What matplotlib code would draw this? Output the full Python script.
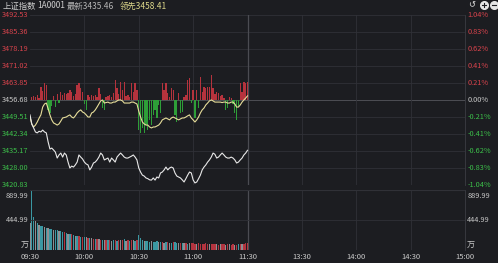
import matplotlib
matplotlib.use('Agg')
import matplotlib.pyplot as plt
from matplotlib.lines import Line2D

plt.rcParams['font.family'] = ['Noto Sans CJK SC', 'DejaVu Sans']

# ---- data (minutes since 09:30, morning session only) ----
minutes = list(range(121))

# 最新 (white) index line
last_price = [
    3450.4, 3446.5, 3444.9, 3443.2, 3442.8, 3443.5, 3443.2, 3444.0, 3443.2, 3442.8,
    3439.0, 3436.0, 3436.4, 3435.6, 3434.7, 3432.2, 3433.5, 3434.3, 3432.6, 3434.3,
    3433.5, 3430.5, 3428.0, 3428.8, 3428.4, 3429.3, 3430.5, 3433.5, 3432.6, 3431.8,
    3430.5, 3429.7, 3429.3, 3427.2, 3428.4, 3430.1, 3430.5, 3431.4, 3432.6, 3434.3,
    3433.5, 3431.4, 3431.8, 3432.2, 3430.5, 3432.2, 3431.4, 3430.5, 3432.6, 3433.5,
    3434.3, 3433.5, 3432.6, 3432.2, 3432.2, 3432.6, 3433.0, 3433.5, 3432.6, 3431.4,
    3428.0, 3426.3, 3425.0, 3424.6, 3423.8, 3423.5, 3423.0, 3422.9, 3423.8, 3422.9,
    3424.2, 3423.8, 3425.9, 3426.3, 3427.2, 3428.4, 3427.2, 3428.0, 3428.4, 3428.0,
    3425.9, 3424.6, 3424.2, 3423.8, 3423.0, 3422.1, 3423.5, 3425.0, 3426.3, 3425.9,
    3423.0, 3421.7, 3422.1, 3423.5, 3425.0, 3427.2, 3428.4, 3429.3, 3430.5, 3431.4,
    3432.6, 3434.3, 3433.8, 3432.2, 3432.6, 3433.5, 3434.3, 3433.5, 3432.6, 3432.2,
    3432.2, 3432.6, 3432.2, 3431.4, 3430.1, 3430.5, 3431.4, 3432.2, 3433.5, 3434.3,
    3435.46]

# 领先 (yellow) line
lead_price = [
    3449.5, 3446.5, 3445.3, 3446.1, 3447.4, 3449.0, 3450.4, 3453.7, 3455.0, 3455.4,
    3453.0, 3450.4, 3448.3, 3447.0, 3446.6, 3446.1, 3446.6, 3447.8, 3449.1, 3449.3,
    3449.5, 3450.0, 3450.4, 3449.5, 3449.1, 3450.0, 3451.2, 3452.0, 3452.5, 3451.6,
    3451.2, 3450.4, 3449.5, 3449.5, 3451.2, 3451.6, 3452.5, 3453.7, 3455.0, 3456.3,
    3456.7, 3455.4, 3455.6, 3455.8, 3455.4, 3455.4, 3455.8, 3455.8, 3456.3, 3456.7,
    3456.7, 3456.3, 3455.4, 3455.4, 3455.4, 3455.4, 3455.8, 3455.8, 3455.4, 3455.0,
    3452.0, 3449.5, 3447.4, 3446.6, 3446.1, 3446.1, 3445.3, 3444.9, 3445.3, 3445.3,
    3445.7, 3446.1, 3447.0, 3448.3, 3448.7, 3449.1, 3448.7, 3448.3, 3449.1, 3449.5,
    3449.1, 3448.7, 3448.3, 3448.7, 3449.1, 3449.1, 3449.5, 3450.0, 3450.4, 3449.1,
    3448.3, 3447.4, 3448.3, 3449.5, 3451.2, 3452.5, 3453.3, 3454.6, 3455.4, 3456.3,
    3456.7, 3456.3, 3455.8, 3455.8, 3455.8, 3455.8, 3455.6, 3455.8, 3455.8, 3455.4,
    3455.4, 3455.8, 3455.8, 3455.0, 3453.7, 3453.7, 3454.6, 3455.8, 3456.7, 3457.5,
    3458.41]

# buy/sell strength bars around the zero line
strength = [
    0, 3, 4, 3, 5, 2, 13, 9, 17, 15,
    -10, -13, -6, 4, -7, 6, -3, 8, 5, 7,
    6, 7, 10, 8, 4, 6, 15, 17, 12, 8,
    -4, -10, 5, 3, 5, 4, 5, 3, 12, 6,
    -8, -10, 3, 4, 5, 3, 7, 20, 12, 6,
    18, 10, 18, 4, 5, 3, 17, 8, 17, 10,
    -30, -33, -28, -33, -25, -30, -20, -25, -15, -10,
    -18, -5, -13, 17, 10, 17, 7, 3, 12, 10,
    -15, -22, 7, -13, -12, 3, 5, 20, 22, -3,
    10, -18, 10, -8, 23, 8, 13, 12, 13, 13,
    25, 12, 6, 8, 7, 4, 5, 2, -10, -8,
    3, 2, -4, -13, -20, -7, 17, 8, 18, 17,
    18]

# volume (万)
volume = [
    400, 890, 489, 430, 400, 371, 360, 350, 341, 330,
    320, 311, 305, 300, 297, 290, 280, 275, 267, 260,
    250, 240, 237, 230, 225, 215, 208, 205, 200, 195,
    193, 190, 185, 180, 175, 170, 165, 163, 160, 155,
    150, 150, 148, 145, 150, 140, 145, 148, 140, 150,
    148, 155, 170, 140, 150, 135, 145, 150, 140, 150,
    225, 180, 150, 140, 135, 130, 125, 130, 120, 125,
    130, 120, 115, 125, 110, 120, 115, 110, 105, 115,
    120, 110, 105, 100, 110, 105, 100, 95, 105, 100,
    110, 95, 90, 100, 95, 90, 95, 100, 90, 85,
    90, 95, 85, 90, 80, 85, 90, 85, 80, 85,
    90, 80, 85, 80, 75, 85, 90, 95, 85, 100,
    110]
volume_kind = ("gttgtgttgt" "gttgttgttr" "tgtrtgtrtr" "tgrtgrtrgr"
               "tgrtrgtrtr" "grtgrtrgtr" "tttgtttgtt" "tgtrgtrgtr"
               "ttgrtgrtgr" "rrgrrrrrrg" "rrrgrgrrgr" "grrgrtrgrr" "r")

price_ticks = [3492.53, 3485.36, 3478.19, 3471.02, 3463.85, 3456.68,
               3449.51, 3442.34, 3435.17, 3428.00, 3420.83]
pct_labels = ['1.04%', '0.83%', '0.62%', '0.41%', '0.21%', '0.00%',
              '-0.21%', '-0.41%', '-0.62%', '-0.83%', '-1.04%']
prev_close = 3456.68
time_ticks = [0, 30, 60, 90, 120, 150, 180, 210, 240]
time_labels = ['09:30', '10:00', '10:30', '11:00', '11:30',
               '13:30', '14:00', '14:30', '15:00']
vol_ticks = [889.99, 444.99]

# ---- style ----
bg = '#1c1d21'
grid = '#303137'
red = '#d8434c'
green = '#3cbf4a'
bar_red = '#b5333d'
bar_green = '#2e9e38'
vol_colors = {'t': '#3a97a2', 'r': '#b3343f', 'g': '#8e8e92'}
fs = 5.3

W, H = 498, 263
fig = plt.figure(figsize=(W / 100, H / 100), dpi=100, facecolor=bg)
x0, x1 = 30, 465
rect_price = [x0 / W, 1 - 185 / H, (x1 - x0) / W, 170 / H]
rect_vol = [x0 / W, 1 - 250 / H, (x1 - x0) / W, 60 / H]

# bottom layer: grid + strength bars
ax_bar = fig.add_axes(rect_price, facecolor=bg)
ax_bar.set_xlim(0, 240)
ax_bar.set_ylim(-85, 85)
ax_bar.bar(minutes, [max(v, 0) for v in strength], width=0.7, color=bar_red, linewidth=0)
ax_bar.bar(minutes, [min(v, 0) for v in strength], width=0.7, color=bar_green, linewidth=0)

# top layer: price lines
ax = fig.add_axes(rect_price)
ax.patch.set_visible(False)
ax.set_xlim(0, 240)
ax.set_ylim(price_ticks[-1], price_ticks[0])
for p in price_ticks:
    ax_bar.axhline((p - prev_close) / (price_ticks[0] - prev_close) * 85,
                   color='#55565c' if p == prev_close else grid, lw=0.6, zorder=0)
for t in time_ticks[1:-1]:
    ax_bar.axvline(t, color='#4b4c52' if t == 120 else grid, lw=0.6 if t != 120 else 0.9, zorder=0)
ax.plot(minutes, lead_price, color='#e6dd9a', lw=0.8)
ax.plot(minutes, last_price, color='#e8e8e8', lw=0.8)

for a in (ax, ax_bar):
    a.set_xticks([])
    a.set_yticks([])
    for s in a.spines.values():
        s.set_visible(False)
ax_bar.spines['right'].set_visible(True)
ax_bar.spines['right'].set_color('#3c3d43')
ax_bar.spines['right'].set_linewidth(0.6)

for p, lab in zip(price_ticks, pct_labels):
    c = red if p > prev_close else (green if p < prev_close else '#c8c8c8')
    ax.text(-0.004, p, f'{p:.2f}', color=c, fontsize=fs, ha='right', va='center',
            transform=ax.get_yaxis_transform())
    ax.text(1.005, p, lab, color=c, fontsize=fs, ha='left', va='center',
            transform=ax.get_yaxis_transform())

# volume pane
axv = fig.add_axes(rect_vol, facecolor=bg)
axv.set_xlim(0, 240)
axv.set_ylim(0, 890)
axv.bar(minutes, volume, width=0.7, color=[vol_colors[k] for k in volume_kind], linewidth=0)
axv.axhline(890, color=grid, lw=0.8)
axv.axhline(445, color=grid, lw=0.6)
for t in time_ticks[1:-1]:
    axv.axvline(t, color='#4b4c52' if t == 120 else grid, lw=0.6 if t != 120 else 0.9, zorder=0)
axv.set_xticks([])
axv.set_yticks([])
for s in axv.spines.values():
    s.set_visible(False)
axv.spines['right'].set_visible(True)
axv.spines['right'].set_color('#3c3d43')
axv.spines['right'].set_linewidth(0.6)
for xa, ha in ((-0.004, 'right'), (1.005, 'left')):
    axv.text(xa, 0.9, f'{vol_ticks[0]:.2f}', color='#c8c8c8', fontsize=fs, ha=ha, va='center',
             transform=axv.transAxes)
    axv.text(xa, 0.5, f'{vol_ticks[1]:.2f}', color='#c8c8c8', fontsize=fs, ha=ha, va='center',
             transform=axv.transAxes)
    axv.text(xa, 0.1, '万', color='#c8c8c8', fontsize=fs + 0.5, ha=ha, va='center',
             transform=axv.transAxes)

for t, lab in zip(time_ticks, time_labels):
    axv.text(t, -0.115, lab, color='#c8c8c8', fontsize=fs + 0.2, ha='center', va='center',
             transform=axv.get_xaxis_transform())

# header
hy = 1 - 6 / H
hfs = 6.0
fig.text(3 / W, hy, '上证指数', color='#cfcfcf', fontsize=hfs, va='center')
fig.text(37 / W, hy, '1A0001', color='#cfcfcf', fontsize=hfs, va='center')
fig.text(67 / W, hy, '最新3435.46', color='#b4b4b4', fontsize=hfs, va='center')
fig.text(120 / W, hy, '领先3458.41', color='#dcd78a', fontsize=hfs, va='center')

# toolbar icons (top right)
fig.text(472 / W, 1 - 5 / H, '↺', color='#e0e0e0', fontsize=6, ha='center', va='center',
         family='DejaVu Sans')
for cx, sym in ((484, '+'), (494, '_')):
    fig.add_artist(Line2D([cx / W], [1 - 5 / H], marker='o', markersize=5.5,
                          color='#e6e6e6', transform=fig.transFigure))
    fig.add_artist(Line2D([(cx - 1.6) / W, (cx + 1.6) / W], [1 - 5 / H, 1 - 5 / H],
                          color=bg, lw=0.8, transform=fig.transFigure))
    if sym == '+':
        fig.add_artist(Line2D([cx / W, cx / W], [1 - 3.4 / H, 1 - 6.6 / H],
                              color=bg, lw=0.8, transform=fig.transFigure))

fig.savefig('out.png', dpi=100, facecolor=bg)
